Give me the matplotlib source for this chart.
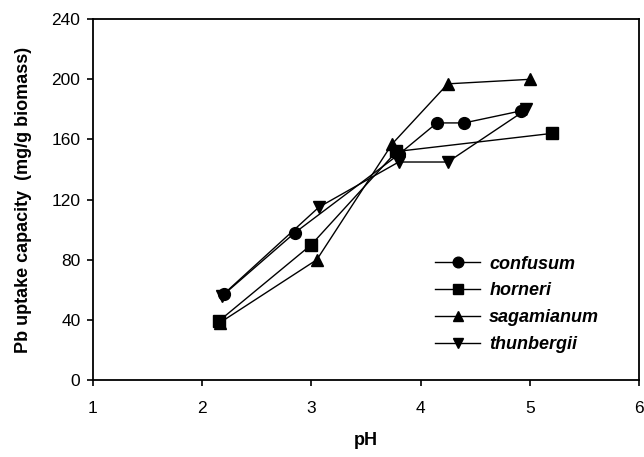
import matplotlib
matplotlib.use("Agg")
import matplotlib.pyplot as plt

plt.rcParams['font.family'] = ['Liberation Sans', 'DejaVu Sans']

# pH values and Pb uptake (mg/g biomass)
ph_confusum = [2.2, 2.85, 3.8, 4.15, 4.4, 4.92]
pb_confusum = [57, 98, 150, 171, 171, 179]

ph_horneri = [2.15, 3.0, 3.78, 5.2]
pb_horneri = [39, 90, 152, 164]

ph_sagamianum = [2.16, 3.05, 3.74, 4.25, 5.0]
pb_sagamianum = [38, 80, 157, 197, 200]

ph_thunbergii = [2.18, 3.07, 3.8, 4.25, 4.97]
pb_thunbergii = [56, 115, 145, 145, 180]

series = [
    ('confusum', ph_confusum, pb_confusum, 'o'),
    ('horneri', ph_horneri, pb_horneri, 's'),
    ('sagamianum', ph_sagamianum, pb_sagamianum, '^'),
    ('thunbergii', ph_thunbergii, pb_thunbergii, 'v'),
]

fig = plt.figure(figsize=(6.44, 4.57), dpi=100)
ax = fig.add_axes([0.1444, 0.1685, 0.8476, 0.7895])

for name, x, y, m in series:
    ax.plot(x, y, color='black', linewidth=1.0, marker=m, markersize=8.5,
            markerfacecolor='black', markeredgecolor='black', label=name)

ax.set_xlim(1, 6)
ax.set_ylim(0, 240)
ax.set_xticks([1, 2, 3, 4, 5, 6])
ax.set_yticks([0, 40, 80, 120, 160, 200, 240])
ax.tick_params(direction='out', length=4, width=1.2, labelsize=12.5, color='black', pad=5)
ax.tick_params(axis='x', pad=11)
for s in ax.spines.values():
    s.set_linewidth(1.3)

ax.set_xlabel('pH', fontsize=13, fontweight='bold', labelpad=12)
ax.set_ylabel('Pb uptake capacity  (mg/g biomass)', fontsize=13, fontweight='bold', labelpad=14)

leg = ax.legend(loc='upper left', bbox_to_anchor=(0.597, 0.39), frameon=False,
                handlelength=2.5, labelspacing=0.55, handletextpad=0.5,
                markerscale=0.9,
                prop={'size': 13, 'weight': 'bold', 'style': 'italic'})

fig.savefig('out.png', dpi=100)
